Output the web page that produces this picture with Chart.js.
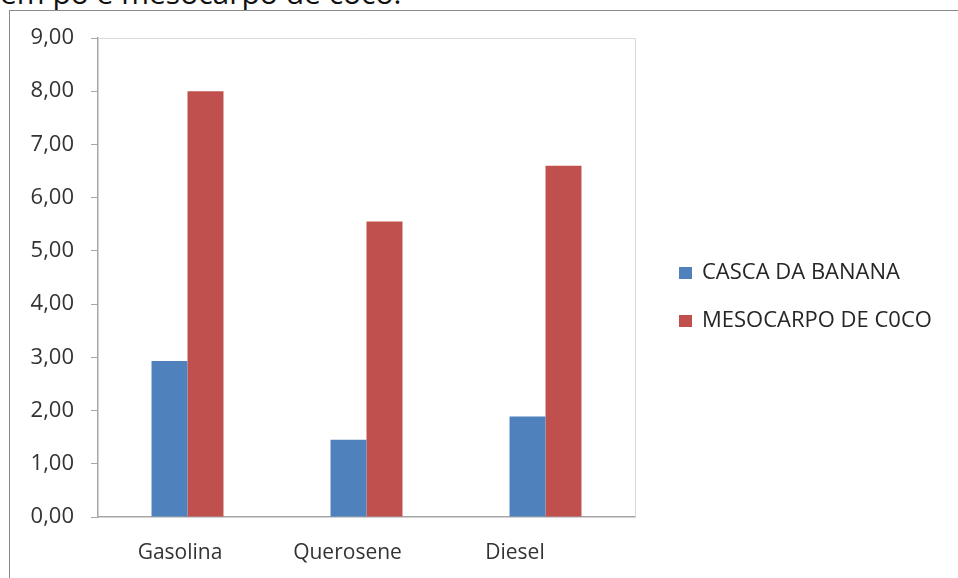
<!DOCTYPE html>
<html>
<head>
<meta charset="utf-8">
<script src="https://cdn.jsdelivr.net/npm/chart.js@4/dist/chart.umd.min.js"></script>
<style>
  html, body { margin: 0; padding: 0; background: #fff; overflow: hidden; }
  body { width: 958px; height: 578px; position: relative; }
  #caption {
    position: absolute; left: 0; top: -22px;
    font: 30px "Open Sans", sans-serif; line-height: 30px;
    color: #111; white-space: nowrap;
  }
  #frame {
    position: absolute; left: 9px; top: 10px; width: 960px; height: 580px;
    border-left: 1px solid #8a8a8a; border-top: 1px solid #8a8a8a;
    background: #fff;
  }
  #chart { position: absolute; left: 0; top: 0; }
</style>
</head>
<body>
<div id="caption">em pó e mesocarpo de coco.</div>
<div id="frame"></div>
<canvas id="chart" width="958" height="578"></canvas>
<script>
// Fuel categories and the two absorbent materials
const categories = ['Gasolina', 'Querosene', 'Diesel'];
const seriesNames = ['CASCA DA BANANA', 'MESOCARPO DE C0CO'];
const cascaBanana = [2.93, 1.45, 1.89];
const mesocarpoCoco = [8.00, 5.55, 6.60];
const yTickLabels = ['0,00', '1,00', '2,00', '3,00', '4,00', '5,00', '6,00', '7,00', '8,00', '9,00'];

const seriesColors = ['#4f81bd', '#c0504d'];
const textFont = '"Open Sans", sans-serif';
const textColor = '#333333';

// Light border on the top and right of the plot area
const plotBorder = {
  id: 'plotBorder',
  beforeDatasetsDraw(chart) {
    const { ctx, chartArea: a } = chart;
    ctx.save();
    ctx.strokeStyle = '#d9d9d9';
    ctx.lineWidth = 1;
    ctx.beginPath();
    ctx.moveTo(a.left, a.top + 0.5);
    ctx.lineTo(a.right + 0.5, a.top + 0.5);
    ctx.lineTo(a.right + 0.5, a.bottom);
    ctx.stroke();
    ctx.restore();
  }
};

// Category names under the axis, on a slightly tighter spacing than the bar groups
const categoryNames = {
  id: 'categoryNames',
  afterDraw(chart) {
    const { ctx, chartArea: a } = chart;
    ctx.save();
    ctx.font = '21px ' + textFont;
    ctx.fillStyle = textColor;
    ctx.textAlign = 'center';
    ctx.textBaseline = 'middle';
    chart.data.labels.forEach((name, i) => {
      ctx.fillText(name, a.left + 82 + i * 167.5, a.bottom + 36);
    });
    ctx.restore();
  }
};

// Legend drawn to the right of the plot, one row per dataset
const sideLegend = {
  id: 'sideLegend',
  afterDraw(chart) {
    const { ctx, chartArea: a } = chart;
    const x = a.right + 44;
    const firstRow = 273;
    const rowGap = 48;
    ctx.save();
    ctx.font = '22px ' + textFont;
    ctx.textBaseline = 'middle';
    ctx.textAlign = 'left';
    chart.data.datasets.forEach((ds, i) => {
      const y = firstRow + i * rowGap;
      ctx.fillStyle = ds.backgroundColor;
      ctx.fillRect(x, y - 6, 13, 12);
      ctx.fillStyle = '#262626';
      ctx.fillText(ds.label, x + 23, y);
    });
    ctx.restore();
  }
};

new Chart(document.getElementById('chart'), {
  type: 'bar',
  data: {
    labels: categories,
    datasets: [
      { label: seriesNames[0], data: cascaBanana, backgroundColor: seriesColors[0] },
      { label: seriesNames[1], data: mesocarpoCoco, backgroundColor: seriesColors[1] }
    ]
  },
  options: {
    responsive: false,
    animation: false,
    layout: { padding: { left: 0, top: 38, right: 323, bottom: 0 } },
    datasets: { bar: { categoryPercentage: 0.402, barPercentage: 1.0 } },
    plugins: { legend: { display: false }, tooltip: { enabled: false } },
    scales: {
      x: {
        grid: { display: false, drawTicks: false },
        border: { color: '#a6a6a6', width: 1.5 },
        ticks: { display: false },
        afterFit(scale) { scale.height = 61; }
      },
      y: {
        min: 0, max: 9,
        grid: { drawOnChartArea: false, drawTicks: true, tickLength: 7, color: '#a6a6a6' },
        border: { color: '#a6a6a6', width: 1.5 },
        ticks: {
          stepSize: 1,
          color: textColor,
          font: { family: textFont, size: 22 },
          padding: 17,
          callback: (v, i) => yTickLabels[i]
        },
        afterFit(scale) { scale.width = 98; }
      }
    }
  },
  plugins: [plotBorder, categoryNames, sideLegend]
});
</script>
</body>
</html>
